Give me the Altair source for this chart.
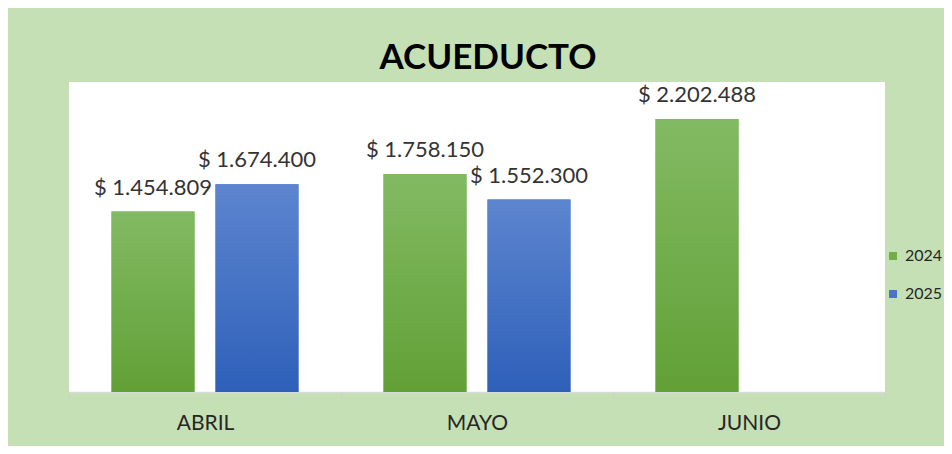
import altair as alt
import pandas as pd

meses = ["ABRIL", "ABRIL", "MAYO", "MAYO", "JUNIO"]
anios = ["2024", "2025", "2024", "2025", "2024"]
valores = [1454809, 1674400, 1758150, 1552300, 2202488]
orden_meses = ["ABRIL", "MAYO", "JUNIO"]
orden_anios = ["2024", "2025"]
colores_leyenda = ["#72ae48", "#4a74c9"]

etiquetas = ["$ " + f"{v:,}".replace(",", ".") for v in valores]
df = pd.DataFrame({"mes": meses, "anio": anios, "valor": valores, "etiqueta": etiquetas})

FONT = "Lato"

g24 = {"gradient": "linear", "x1": 0, "y1": 0, "x2": 0, "y2": 1,
       "stops": [{"offset": 0, "color": "#82ba63"}, {"offset": 1, "color": "#62a036"}]}
g25 = {"gradient": "linear", "x1": 0, "y1": 0, "x2": 0, "y2": 1,
       "stops": [{"offset": 0, "color": "#5d85cf"}, {"offset": 1, "color": "#2e60b9"}]}

x = alt.X("mes:N", sort=orden_meses,
          scale=alt.Scale(paddingInner=0, paddingOuter=0),
          axis=alt.Axis(title=None, labelAngle=0, labelFont=FONT, labelFontSize=21,
                        labelColor="#262626", labelPadding=13, domainColor="#d9d9d9",
                        domainWidth=1.5, tickColor="#d0d0d0", tickWidth=1.5,
                        tickBand="extent", tickSize=7, grid=False))
xo = alt.XOffset("anio:N", scale=alt.Scale(domain=orden_anios, paddingInner=0.202, paddingOuter=0.409))
y = alt.Y("valor:Q", scale=alt.Scale(domain=[0, 2500000], nice=False), axis=None)

base = alt.Chart(df).mark_bar().encode(
    x=x, xOffset=xo, y=y,
    color=alt.Color("anio:N", scale=alt.Scale(domain=orden_anios, range=colores_leyenda),
                    legend=alt.Legend(title=None, orient="none", legendX=816, legendY=166,
                                      symbolType="square", symbolSize=64, symbolStrokeWidth=0,
                                      labelFont=FONT, labelFontSize=16, labelColor="#262626",
                                      rowPadding=22, labelOffset=4)),
)

grad = alt.Chart(df).mark_bar().encode(
    x=x, xOffset=xo, y=y,
    fill=alt.when(alt.datum.anio == "2024").then(alt.value(g24)).otherwise(alt.value(g25)),
)

text = alt.Chart(df).mark_text(font=FONT, fontSize=22, color="#333333",
                               baseline="alphabetic", dy=-17).encode(
    x=x, xOffset=xo, y=y, text="etiqueta:N")

chart = alt.layer(base, grad, text).properties(
    width=816, height=310,
    autosize="none",
    padding={"left": 61, "top": 74, "right": 59, "bottom": 54},
    background="#c5e0b4",
    title=alt.TitleParams("ACUEDUCTO", font=FONT, fontSize=35, fontWeight="bold",
                          color="#000000", anchor="middle", baseline="alphabetic",
                          offset=14, dx=11, dy=36),
).configure_view(fill="white", strokeWidth=0)

chart.save("out.html", embed_options={"renderer": "svg", "actions": False})
